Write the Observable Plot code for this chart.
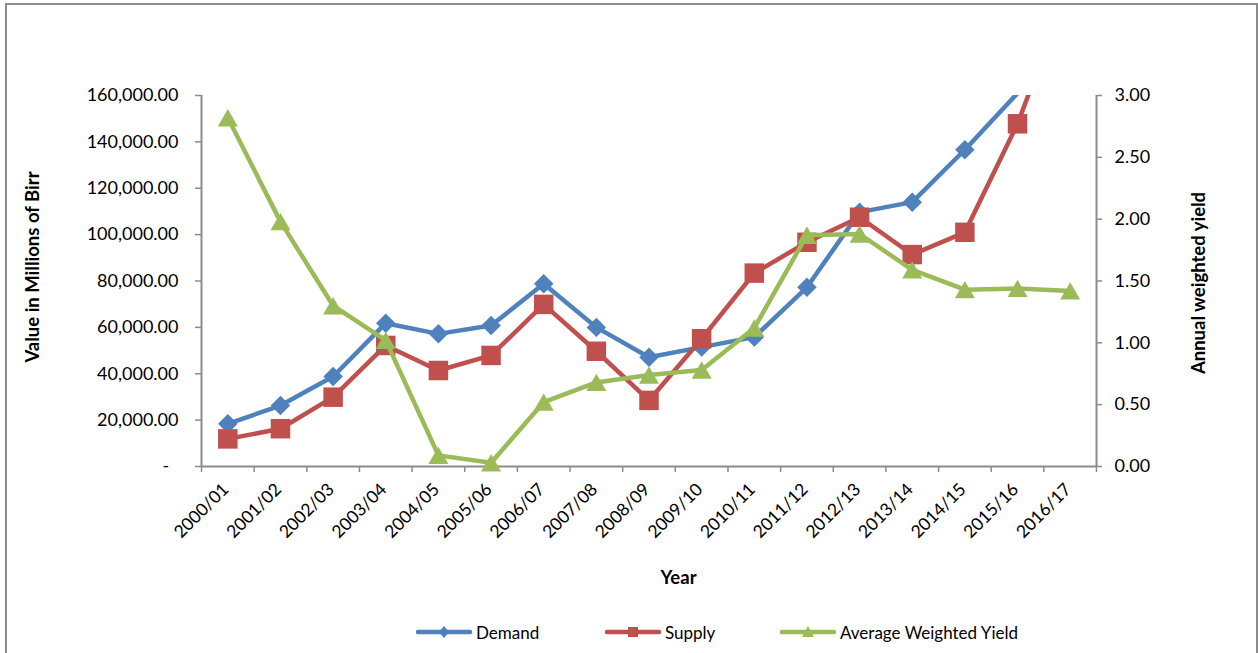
<!DOCTYPE html>
<html>
<head>
<meta charset="utf-8">
<script src="https://cdn.jsdelivr.net/npm/d3@7"></script>
<script src="https://cdn.jsdelivr.net/npm/@observablehq/plot@0.6"></script>
<style>
  html, body { margin: 0; padding: 0; background: #fff; }
  body { width: 1258px; height: 653px; position: relative; overflow: hidden; font-family: Lato, "Open Sans", sans-serif; }
  #frame { position: absolute; left: 5px; top: 3px; width: 1253px; height: 720px; border: 2px solid #8c8c8c; box-sizing: border-box; }
  #chart { position: absolute; left: 0; top: 0; }
  #legend { position: absolute; left: 0; top: 622px; width: 1258px; height: 20px; font-size: 17px; color: #000; }
  .item { position: absolute; top: 0; height: 20px; display: flex; align-items: center; white-space: nowrap; }
  .item svg { margin-right: 4px; }
</style>
</head>
<body>
<div id="frame"></div>
<div id="chart"></div>
<div id="legend"></div>
<script>
// Fiscal years on the category axis
const years = ["2000/01", "2001/02", "2002/03", "2003/04", "2004/05", "2005/06", "2006/07", "2007/08", "2008/09",
  "2009/10", "2010/11", "2011/12", "2012/13", "2013/14", "2014/15", "2015/16", "2016/17"];

// Demand and supply, millions of Birr (left axis)
const demand = [18400, 26300, 38800, 61800, 57200, 60800, 78800, 60000, 47100,
  51500, 55800, 77300, 109700, 114000, 136600, 161000, 190000];
const supply = [11900, 16300, 29900, 52200, 41400, 47900, 69900, 49700, 28500,
  55100, 83400, 96700, 107500, 91400, 101000, 147800, 208000];

// Average weighted yield (right axis)
const avgYield = [2.82, 1.98, 1.30, 1.02, 0.09, 0.03, 0.52, 0.68, 0.74,
  0.78, 1.12, 1.87, 1.88, 1.59, 1.43, 1.44, 1.42];

// Axis ticks
const leftTicks = [0, 20000, 40000, 60000, 80000, 100000, 120000, 140000, 160000];
const rightTicks = [0, 0.5, 1, 1.5, 2, 2.5, 3];

const leftMax = 160000;
const rightMax = 3;
const k = leftMax / rightMax; // yield -> left-axis units

const seriesNames = ["Demand", "Supply", "Average Weighted Yield"];
const colors = ["#4f81bd", "#c0504d", "#9bbb59"];
const axisGray = "#8c8c8c";

const rows = years.map((yr, i) => ({i, yr, demand: demand[i], supply: supply[i], yld: avgYield[i] * k}));
const xPos = d => d.i + 0.5;

// Box-centred marker shapes (full width = sqrt(size))
const diamond = {
  draw(ctx, size) {
    const h = Math.sqrt(size) / 2;
    ctx.moveTo(0, -h); ctx.lineTo(h, 0); ctx.lineTo(0, h); ctx.lineTo(-h, 0); ctx.closePath();
  }
};
const square = {
  draw(ctx, size) {
    const h = Math.sqrt(size) / 2;
    ctx.rect(-h, -h, 2 * h, 2 * h);
  }
};
const triangle = {
  draw(ctx, size) {
    const s = Math.sqrt(size), h = s * 0.866;
    ctx.moveTo(0, -h / 2); ctx.lineTo(s / 2, h / 2); ctx.lineTo(-s / 2, h / 2); ctx.closePath();
  }
};

const inRange = key => d => d[key] <= leftMax;
const lineOpts = (key, color) => ({x: xPos, y: key, stroke: color, strokeWidth: 4.5,
  strokeLinejoin: "round", strokeLinecap: "round", clip: true});

const chart = Plot.plot({
  width: 1258,
  height: 600,
  marginLeft: 201,
  marginRight: 162,
  marginTop: 95,
  marginBottom: 134,
  style: {fontFamily: "Lato, 'Open Sans', sans-serif", background: "transparent", color: "#000"},
  x: {type: "linear", domain: [0, years.length], axis: null},
  y: {domain: [0, leftMax], axis: null},
  marks: [
    // axes
    Plot.axisY(leftTicks, {anchor: "left", tickSize: 6, tickPadding: 17, fontSize: 18,
      stroke: axisGray, strokeWidth: 1.5, fill: "#000", label: null,
      tickFormat: d => d === 0 ? "-\u00a0\u00a0" : d3.format(",.2f")(d)}),
    Plot.axisY(rightTicks.map(v => v * k), {anchor: "right", tickSize: 5, tickPadding: 13, fontSize: 18,
      stroke: axisGray, strokeWidth: 1.5, fill: "#000", label: null,
      tickFormat: d => (d / k).toFixed(2)}),
    Plot.axisX(d3.range(years.length + 1), {anchor: "bottom", tickSize: 6, stroke: axisGray, strokeWidth: 1.5,
      label: null, tickFormat: () => ""}),
    Plot.ruleX([0], {stroke: axisGray, strokeWidth: 2}),
    Plot.ruleX([years.length], {stroke: axisGray, strokeWidth: 2}),
    Plot.ruleY([0], {stroke: axisGray, strokeWidth: 2}),
    // category labels
    Plot.text(rows, {x: xPos, text: "yr", frameAnchor: "bottom", rotate: -45, textAnchor: "end",
      lineAnchor: "middle", dx: -2, dy: 20, fontSize: 17.5, fill: "#000"}),
    // axis titles
    Plot.text(["Value in Millions of Birr"], {text: d => d, frameAnchor: "left", rotate: -90,
      textAnchor: "middle", lineAnchor: "middle",
      dx: -168, dy: -14, fontSize: 18.5, fontWeight: "bold", fill: "#000"}),
    Plot.text(["Annual weighted yield"], {text: d => d, frameAnchor: "right", rotate: -90,
      textAnchor: "middle", lineAnchor: "middle",
      dx: 103, dy: 2, fontSize: 18.5, fontWeight: "bold", fill: "#000"}),
    Plot.text(["Year"], {text: d => d, frameAnchor: "bottom", textAnchor: "middle", lineAnchor: "middle",
      dx: 29.5, dy: 112, fontSize: 18.5, fontWeight: "bold", fill: "#000"}),
    // series
    Plot.line(rows, lineOpts("demand", colors[0])),
    Plot.dot(rows, {x: xPos, y: "demand", filter: inRange("demand"), symbol: diamond, r: 11, fill: colors[0], stroke: "none"}),
    Plot.line(rows, lineOpts("supply", colors[1])),
    Plot.dot(rows, {x: xPos, y: "supply", filter: inRange("supply"), symbol: square, r: 11, fill: colors[1], stroke: "none"}),
    Plot.line(rows, lineOpts("yld", colors[2])),
    Plot.dot(rows, {x: xPos, y: "yld", symbol: triangle, r: 11.3, fill: colors[2], stroke: "none"})
  ]
});
document.getElementById("chart").appendChild(chart);

// Legend
const legendLeft = [416, 605, 780];
const markerPaths = [
  "M28,4 L33,10 L28,16 L23,10 Z",
  "M23,5 L33,5 L33,15 L23,15 Z",
  "M28,4 L34,15 L22,15 Z"
];
const legend = document.getElementById("legend");
seriesNames.forEach((name, j) => {
  const item = document.createElement("div");
  item.className = "item";
  item.style.left = legendLeft[j] + "px";
  item.innerHTML = `<svg width="56" height="20" viewBox="0 0 56 20">
      <line x1="2" y1="10" x2="54" y2="10" stroke="${colors[j]}" stroke-width="4.5" stroke-linecap="round"/>
      <path d="${markerPaths[j]}" fill="${colors[j]}"/>
    </svg><span>${name}</span>`;
  legend.appendChild(item);
});
</script>
</body>
</html>
